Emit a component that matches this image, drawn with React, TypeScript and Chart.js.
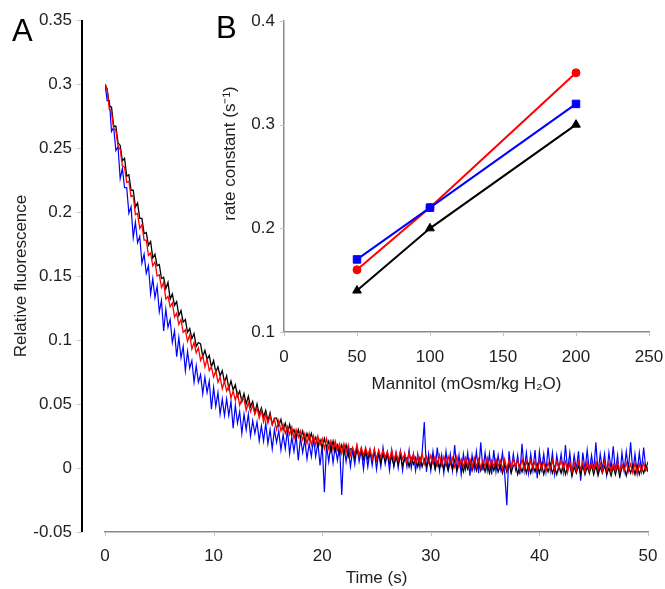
import React, { useEffect, useRef } from "react";
import { Chart, registerables } from "chart.js";

Chart.register(...registerables);

// ---------- Panel A: fluorescence traces (values in units of 0.001), sampled every 0.2 s ----------
const TIME_STEP_S = 0.2;
const TIME_TICKS = [0, 10, 20, 30, 40, 50];
const FLUOR_TICKS = [-0.05, 0, 0.05, 0.1, 0.15, 0.2, 0.25, 0.3, 0.35];

const BLACK_TRACE = [
  300, 296, 283, 282, 267,
  267, 254, 252, 240, 242,
  228, 229, 217, 217, 204,
  207, 195, 195, 183, 184,
  174, 177, 164, 167, 158,
  159, 148, 149, 140, 145,
  132, 136, 127, 130, 119,
  123, 114, 116, 106, 109,
  101, 105, 95, 98, 97,
  87, 92, 85, 88, 79,
  84, 75, 79, 72, 76,
  67, 72, 62, 68, 61,
  65, 56, 60, 52, 58,
  50, 56, 48, 52, 43,
  50, 42, 47, 40, 45,
  37, 43, 34, 39, 39,
  33, 38, 30, 35, 27,
  34, 26, 30, 24, 30,
  23, 29, 21, 27, 22,
  27, 20, 24, 17, 22,
  16, 23, 16, 21, 13,
  21, 13, 18, 11, 18,
  11, 18, 9, 15, 15,
  8, 15, 9, 15, 7,
  14, 7, 13, 7, 13,
  6, 13, 4, 11, 5,
  11, 4, 9, 2, 9,
  3, 10, 2, 7, 8,
  1, 8, 3, 8, 1,
  8, 1, 7, 1, 7,
  0, 7, -1, 5, 0,
  6, -1, 4, -2, 5,
  -1, 6, -2, 3, 4,
  -3, 4, -1, 5, -2,
  5, -2, 4, -2, 4,
  -3, 4, -4, 3, -2,
  4, -3, 2, -4, 3,
  -3, 4, -4, 2, 3,
  -5, 2, -3, 3, -4,
  3, -4, 2, -3, 3,
  -4, 3, -5, 2, -3,
  3, -4, 1, -5, 2,
  -4, 3, -5, 1, 2,
  -6, 1, -4, 2, -5,
  2, -5, 1, -4, 2,
  -5, 2, -6, 1, -4,
  2, -5, 0, -6, 1,
  -5, 2, -6, 0, 1,
  -6, 1, -4, 2, -5,
  2, -5, 1, -4, 2,
  -3,
];

const RED_TRACE = [
  300, 295, 280, 278, 265,
  264, 251, 249, 236, 235,
  223, 224, 212, 213, 198,
  199, 187, 190, 178, 178,
  166, 168, 158, 161, 150,
  151, 141, 145, 132, 134,
  126, 129, 118, 121, 112,
  116, 106, 108, 99, 104,
  93, 98, 90, 94, 84,
  88, 79, 85, 76, 79,
  71, 76, 67, 71, 62,
  68, 60, 64, 55, 60,
  53, 59, 49, 54, 54,
  45, 51, 44, 49, 42,
  47, 39, 45, 36, 42,
  35, 41, 34, 38, 30,
  37, 29, 34, 27, 32,
  26, 32, 23, 30, 24,
  29, 22, 27, 19, 27,
  18, 25, 18, 25, 18,
  23, 15, 23, 15, 21,
  14, 21, 14, 19, 11,
  19, 12, 18, 10, 16,
  11, 18, 9, 16, 10,
  16, 10, 15, 7, 15,
  7, 14, 8, 14, 8,
  13, 6, 14, 6, 12,
  6, 13, 7, 11, 4,
  12, 5, 11, 3, 9,
  4, 11, 3, 9, 4,
  10, 4, 9, 2, 10,
  2, 9, 3, 9, 3,
  8, 1, 9, 1, 7,
  1, 8, 2, 7, 0,
  8, 1, 7, 0, 6,
  1, 8, 0, 6, 1,
  7, 1, 6, -1, 7,
  -1, 6, 0, 7, 1,
  6, -1, 7, -1, 5,
  -1, 6, 0, 5, -2,
  6, -1, 5, -2, 4,
  -1, 6, -2, 5, 0,
  6, 0, 5, -3, 5,
  -3, 4, -2, 5, -1,
  4, -3, 5, -2, 4,
  -2, 5, -1, 4, -3,
  5, -2, 4, -3, 3,
  -2, 5, -3, 3, -2,
  4, -2, 3, -4, 4,
  -4, 3, -3, 4, -2,
  1,
];

const BLUE_TRACE = [
  300, 287, 287, 263, 266,
  248, 251, 226, 234, 219,
  219, 199, 204, 180, 192,
  176, 181, 160, 167, 152,
  158, 136, 148, 133, 142,
  122, 131, 107, 124, 110,
  116, 98, 107, 87, 102,
  86, 95, 76, 91, 78,
  84, 67, 80, 67, 73,
  58, 71, 59, 68, 46,
  63, 48, 59, 42, 54,
  41, 54, 41, 52, 31,
  49, 35, 44, 27, 42,
  30, 42, 25, 37, 27,
  36, 21, 33, 21, 35,
  19, 30, 15, 30, 20,
  29, 14, 26, 15, 30,
  11, 24, 13, 25, 6,
  24, 12, 22, 7, 19,
  9, 23, 9, 20, 2,
  18, -19, 18, 5, 19,
  4, 17, 6, 17, -21,
  17, 5, 16, 1, 14,
  3, 17, 5, 14, -1,
  14, 1, 13, 2, 14,
  -1, 12, 1, 16, 3,
  12, -2, 14, 1, 12,
  0, 13, -2, 11, 1,
  14, 0, 11, -2, 11,
  0, 12, 36, -3, 11,
  -2, 13, 0, 16, -2,
  10, -4, 13, -1, 11,
  -2, 18, -3, 10, -5,
  11, -1, 12, -6, 10,
  -1, 13, -4, 20, -2,
  12, -2, 11, -5, 14,
  -3, 10, -1, 12, -4,
  -29, 13, -2, 11, -1,
  10, -5, 19, -2, 12,
  -4, 11, -2, 14, -8,
  13, -1, 11, -3, 16,
  -2, 12, -5, 10, -1,
  11, -3, 18, -2, 12,
  -5, 10, -1, 13, -10,
  12, -2, 14, -3, 10,
  -2, 20, -4, 11, -1,
  11, -5, 12, -1, 17,
  -3, 10, -8, 12, -2,
  13, -1, 20, -3, 11,
  -4, 12, -2, 16, -1,
  5,
];

// ---------- Panel B: rate constants ----------
const MANNITOL = [50, 100, 200];
const MANNITOL_TICKS = [0, 50, 100, 150, 200, 250];
const RATE_TICKS = [0.1, 0.2, 0.3, 0.4];
const RATE_BLACK = [0.14, 0.2, 0.3];
const RATE_BLUE = [0.17, 0.22, 0.32];
const RATE_RED = [0.16, 0.22, 0.35];

const FONT = '"Liberation Sans", Arial, Helvetica, sans-serif';
const TEXT = "#1e1e1e";
const AXIS_GRAY = "#8a8a8a";
const TICK_GRAY = "#c4c4c4";
const Y_AXIS_GAP = 23;

const fmt = (v: number) => String(Number(Number(v).toFixed(2)));
const toPoints = (arr: number[]) => arr.map((v, i) => ({ x: i * TIME_STEP_S, y: v / 1000 }));
const pairs = (xs: number[], ys: number[]) => xs.map((x, i) => ({ x, y: ys[i] }));
const noScalePadding = (s: any) => {
  s.paddingTop = 0;
  s.paddingBottom = 0;
  s.paddingLeft = 0;
  s.paddingRight = 0;
};

const mainDecor = {
  id: "mainDecor",
  afterDraw(chart: any) {
    const { ctx, chartArea, scales } = chart;
    const y = scales.y;
    const x = scales.x;
    const axisX = chartArea.left - Y_AXIS_GAP;
    ctx.save();
    ctx.strokeStyle = TICK_GRAY;
    ctx.lineWidth = 1;
    FLUOR_TICKS.forEach((v) => {
      const py = Math.round(y.getPixelForValue(v)) + 0.5;
      ctx.beginPath();
      ctx.moveTo(axisX - 5, py);
      ctx.lineTo(axisX, py);
      ctx.stroke();
    });
    TIME_TICKS.forEach((v) => {
      const px = Math.round(x.getPixelForValue(v)) + 0.5;
      ctx.beginPath();
      ctx.moveTo(px, chartArea.bottom);
      ctx.lineTo(px, chartArea.bottom + 4);
      ctx.stroke();
    });
    ctx.strokeStyle = "#000";
    ctx.lineWidth = 2;
    ctx.beginPath();
    ctx.moveTo(axisX, y.getPixelForValue(FLUOR_TICKS[FLUOR_TICKS.length - 1]));
    ctx.lineTo(axisX, y.getPixelForValue(FLUOR_TICKS[0]));
    ctx.stroke();
    ctx.fillStyle = "#000";
    ctx.font = `31px ${FONT}`;
    ctx.textAlign = "left";
    ctx.textBaseline = "alphabetic";
    ctx.fillText("A", 12, 41);
    ctx.restore();
  },
};

const insetDecor = {
  id: "insetDecor",
  afterDraw(chart: any) {
    const { ctx, chartArea, scales } = chart;
    const y = scales.y;
    const x = scales.x;
    ctx.save();
    ctx.strokeStyle = TICK_GRAY;
    ctx.lineWidth = 1;
    RATE_TICKS.forEach((v) => {
      const py = Math.round(y.getPixelForValue(v)) + 0.5;
      ctx.beginPath();
      ctx.moveTo(chartArea.left - 4, py);
      ctx.lineTo(chartArea.left, py);
      ctx.stroke();
    });
    MANNITOL_TICKS.forEach((v) => {
      const px = Math.round(x.getPixelForValue(v)) + 0.5;
      ctx.beginPath();
      ctx.moveTo(px, chartArea.bottom);
      ctx.lineTo(px, chartArea.bottom + 4);
      ctx.stroke();
    });
    ctx.fillStyle = TEXT;
    ctx.font = `17px ${FONT}`;
    ctx.textAlign = "center";
    ctx.textBaseline = "middle";
    ctx.translate(chartArea.left - 54, (chartArea.top + chartArea.bottom) / 2 - 23);
    ctx.rotate(-Math.PI / 2);
    ctx.fillText("rate constant (s\u207B\u00B9)", 0, 0);
    ctx.restore();
    ctx.save();
    ctx.fillStyle = "#000";
    ctx.font = `31px ${FONT}`;
    ctx.textAlign = "left";
    ctx.textBaseline = "alphabetic";
    ctx.fillText("B", 16, 38);
    ctx.restore();
  },
};

export default function App() {
  const mainRef = useRef<HTMLCanvasElement>(null);
  const insetRef = useRef<HTMLCanvasElement>(null);

  useEffect(() => {
    const tickFont = { family: FONT, size: 17 };
    const main = new Chart(mainRef.current as HTMLCanvasElement, {
      type: "line",
      data: {
        datasets: [
          { label: "red", data: toPoints(RED_TRACE), borderColor: "#ff0000", borderWidth: 1.3, pointRadius: 0, tension: 0 },
          { label: "black", data: toPoints(BLACK_TRACE), borderColor: "#000000", borderWidth: 1.3, pointRadius: 0, tension: 0 },
          { label: "blue", data: toPoints(BLUE_TRACE), borderColor: "#0000ff", borderWidth: 1.2, pointRadius: 0, tension: 0 },
        ],
      },
      options: {
        responsive: false,
        animation: false,
        devicePixelRatio: 1,
        layout: { padding: { top: 20, right: 17, left: 0, bottom: 0 } },
        plugins: { legend: { display: false }, tooltip: { enabled: false } },
        scales: {
          x: {
            type: "linear",
            min: TIME_TICKS[0],
            max: TIME_TICKS[TIME_TICKS.length - 1],
            afterBuildTicks: (s: any) => {
              s.ticks = TIME_TICKS.map((v) => ({ value: v }));
            },
            afterFit: (s: any) => {
              s.height = 57;
              noScalePadding(s);
            },
            grid: { display: false, drawTicks: false },
            border: { display: true, color: AXIS_GRAY, width: 1.5 },
            ticks: { padding: 14, font: tickFont, color: TEXT, maxRotation: 0, autoSkip: false, callback: (v: any) => fmt(v) },
            title: { display: true, text: "Time (s)", font: tickFont, color: TEXT, padding: { top: 0, bottom: 0 } },
          },
          y: {
            type: "linear",
            min: FLUOR_TICKS[0],
            max: FLUOR_TICKS[FLUOR_TICKS.length - 1],
            afterBuildTicks: (s: any) => {
              s.ticks = FLUOR_TICKS.map((v) => ({ value: v }));
            },
            afterFit: (s: any) => {
              s.width = 105;
              noScalePadding(s);
            },
            grid: { display: false, drawTicks: false },
            border: { display: false },
            ticks: { padding: 33, font: tickFont, color: TEXT, callback: (v: any) => fmt(v) },
            title: { display: true, text: "Relative fluorescence", font: tickFont, color: TEXT, padding: { top: 11, bottom: 0 } },
          },
        },
      },
      plugins: [mainDecor],
    } as any);

    const inset = new Chart(insetRef.current as HTMLCanvasElement, {
      type: "line",
      data: {
        datasets: [
          {
            label: "blue",
            data: pairs(MANNITOL, RATE_BLUE),
            borderColor: "#0000ff",
            backgroundColor: "#0000ff",
            borderWidth: 2,
            pointStyle: "rect",
            pointRadius: 5.3,
            pointBorderWidth: 1,
          },
          {
            label: "red",
            data: pairs(MANNITOL, RATE_RED),
            borderColor: "#ff0000",
            backgroundColor: "#ff0000",
            borderWidth: 2,
            pointStyle: "circle",
            pointRadius: 4,
            pointBorderWidth: 1,
          },
          {
            label: "black",
            data: pairs(MANNITOL, RATE_BLACK),
            borderColor: "#000000",
            backgroundColor: "#000000",
            borderWidth: 2,
            pointStyle: "triangle",
            pointRadius: 5,
            pointBorderWidth: 1,
          },
        ],
      },
      options: {
        responsive: false,
        animation: false,
        devicePixelRatio: 1,
        layout: { padding: { top: 21, right: 16, left: 0, bottom: 0 } },
        plugins: { legend: { display: false }, tooltip: { enabled: false } },
        scales: {
          x: {
            type: "linear",
            min: MANNITOL_TICKS[0],
            max: MANNITOL_TICKS[MANNITOL_TICKS.length - 1],
            afterBuildTicks: (s: any) => {
              s.ticks = MANNITOL_TICKS.map((v) => ({ value: v }));
            },
            afterFit: (s: any) => {
              s.height = 68;
              noScalePadding(s);
            },
            grid: { display: false, drawTicks: false },
            border: { display: true, color: AXIS_GRAY, width: 1.5 },
            ticks: { padding: 15, font: tickFont, color: TEXT, maxRotation: 0, autoSkip: false },
            title: {
              display: true,
              text: "Mannitol (mOsm/kg H\u2082O)",
              font: tickFont,
              color: TEXT,
              padding: { top: 0, bottom: 5 },
            },
          },
          y: {
            type: "linear",
            min: RATE_TICKS[0],
            max: RATE_TICKS[RATE_TICKS.length - 1],
            afterBuildTicks: (s: any) => {
              s.ticks = RATE_TICKS.map((v) => ({ value: v }));
            },
            afterFit: (s: any) => {
              s.width = 84;
              noScalePadding(s);
            },
            grid: { display: false, drawTicks: false },
            border: { display: true, color: AXIS_GRAY, width: 1.5 },
            ticks: { padding: 9, font: tickFont, color: TEXT, callback: (v: any) => fmt(v) },
            title: { display: false },
          },
        },
      },
      plugins: [insetDecor],
    } as any);

    return () => {
      main.destroy();
      inset.destroy();
    };
  }, []);

  return (
    <div style={{ position: "fixed", left: 0, top: 0, width: 665, height: 589, background: "#fff" }}>
      <canvas
        ref={mainRef}
        width={665}
        height={589}
        style={{ position: "absolute", left: 0, top: 0, width: 665, height: 589 }}
      />
      <canvas
        ref={insetRef}
        width={465}
        height={400}
        style={{ position: "absolute", left: 200, top: 0, width: 465, height: 400 }}
      />
    </div>
  );
}
